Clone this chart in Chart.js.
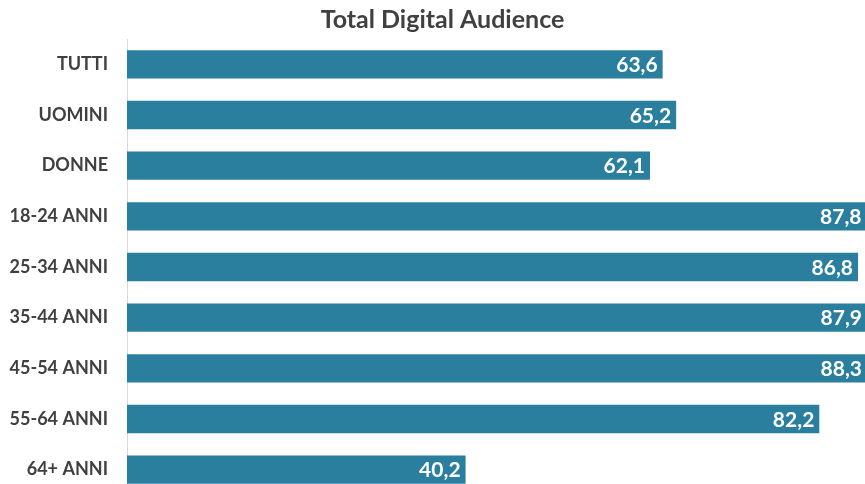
<!DOCTYPE html>
<html><head><meta charset="utf-8">
<script src="https://cdn.jsdelivr.net/npm/chart.js@4"></script>
<style>
html,body{margin:0;padding:0;background:#fff;overflow:hidden;width:865px;height:484px;}
#wrap{position:absolute;left:0;top:0;width:888px;height:500px;}
</style></head>
<body>
<div id="wrap"><canvas id="c"></canvas></div>
<script>
const categories = ["TUTTI","UOMINI","DONNE","18-24 ANNI","25-34 ANNI","35-44 ANNI","45-54 ANNI","55-64 ANNI","64+ ANNI"];
const values = [63.6, 65.2, 62.1, 87.8, 86.8, 87.9, 88.3, 82.2, 40.2];
const titleText = "Total Digital Audience";

const labelPlugin = {
  id: 'valueLabels',
  afterDatasetsDraw(chart) {
    const ctx = chart.ctx;
    const meta = chart.getDatasetMeta(0);
    ctx.save();
    ctx.font = 'bold 21px Lato';
    ctx.fillStyle = '#ffffff';
    ctx.textAlign = 'right';
    ctx.textBaseline = 'middle';
    meta.data.forEach((bar, i) => {
      const txt = values[i].toFixed(1).replace('.', ',');
      const x = Math.min(bar.x - 5, 862);
      ctx.fillText(txt, x, bar.y + 1);
    });
    ctx.restore();
  }
};

new Chart(document.getElementById('c'), {
  type: 'bar',
  data: {
    labels: categories,
    datasets: [{
      data: values,
      backgroundColor: '#2b7f9e',
      borderWidth: 0,
      barPercentage: 0.56,
      categoryPercentage: 1.0
    }]
  },
  options: {
    indexAxis: 'y',
    responsive: true,
    maintainAspectRatio: false,
    animation: false,
    layout: { padding: { left: 0, right: 3, top: 0, bottom: 5 } },
    plugins: {
      legend: { display: false },
      tooltip: { enabled: false },
      title: {
        display: true,
        text: titleText,
        color: '#404040',
        font: { family: 'Lato', size: 25, weight: 'bold', lineHeight: 1.2 },
        padding: { top: 5, bottom: 4 }
      }
    },
    scales: {
      x: { display: false, min: 0, max: 90 },
      y: {
        afterFit(scale) { scale.width = 127; scale.paddingTop = 0; scale.paddingBottom = 0; },
        grid: { display: false, drawTicks: false },
        border: { display: true, color: '#d9d9d9', width: 1 },
        ticks: { color: '#404040', padding: 19, font: { family: 'Lato', size: 18, weight: 'bold' } }
      }
    }
  },
  plugins: [labelPlugin]
});
</script>
</body></html>
